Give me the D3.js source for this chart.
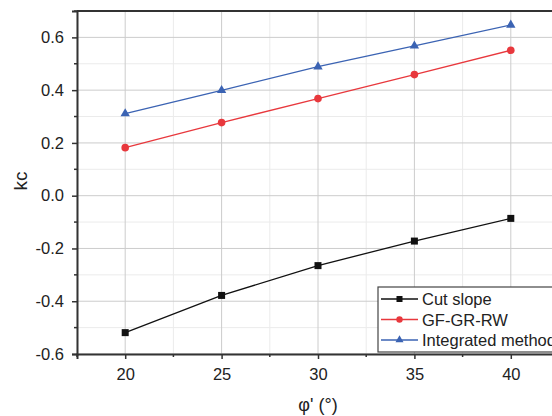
<!DOCTYPE html>
<html><head><meta charset="utf-8">
<script src="https://cdn.jsdelivr.net/npm/d3@7/dist/d3.min.js"></script>
<style>body{margin:0;background:#fff;}svg{display:block;font-family:"Liberation Sans",Arial,sans-serif;}</style>
</head><body><svg id="c" width="552" height="416"></svg>
<script>
const xValues = [20, 25, 30, 35, 40];
const cutSlope = [-0.519, -0.378, -0.265, -0.172, -0.086];
const gfGrRw = [0.182, 0.277, 0.368, 0.459, 0.551];
const integrated = [0.311, 0.399, 0.489, 0.568, 0.647];
const seriesNames = ["Cut slope", "GF-GR-RW", "Integrated method"];
const seriesColors = ["#111111", "#e8383d", "#3b63b3"];
const seriesShapes = ["square", "circle", "triangle"];
const xTicks = [20, 25, 30, 35, 40];
const yTicks = [-0.6, -0.4, -0.2, 0.0, 0.2, 0.4, 0.6];

const svg = d3.select("#c");
const m = {l: 77, t: 11, r: 559, b: 354};
const x = d3.scaleLinear().domain([17.5, 42.5]).range([m.l, m.r]);
const y = d3.scaleLinear().domain([-0.6, 0.7]).range([m.b, m.t]);

const g = svg.append("g");
const xMinor = d3.range(17.5, 42.6, 2.5).filter(v => !xTicks.includes(v));
const yMinor = d3.range(-0.5, 0.71, 0.2).map(v => +v.toFixed(2));
g.selectAll(".xm").data(xMinor).enter().append("line")
  .attr("x1", d => x(d)).attr("x2", d => x(d)).attr("y1", m.t).attr("y2", m.b)
  .attr("stroke", "#ebebeb").attr("stroke-width", 1);
g.selectAll(".ym").data(yMinor).enter().append("line")
  .attr("x1", m.l).attr("x2", m.r).attr("y1", d => y(d)).attr("y2", d => y(d))
  .attr("stroke", "#ebebeb").attr("stroke-width", 1);
g.selectAll(".xg").data(xTicks).enter().append("line")
  .attr("x1", d => x(d)).attr("x2", d => x(d)).attr("y1", m.t).attr("y2", m.b)
  .attr("stroke", "#cccccc").attr("stroke-width", 1);
g.selectAll(".yg").data(yTicks).enter().append("line")
  .attr("x1", m.l).attr("x2", m.r).attr("y1", d => y(d)).attr("y2", d => y(d))
  .attr("stroke", "#cccccc").attr("stroke-width", 1);

svg.append("line").attr("x1", m.l).attr("x2", m.r).attr("y1", m.t).attr("y2", m.t)
  .attr("stroke", "#333").attr("stroke-width", 2);

const xAxis = d3.axisBottom(x).tickValues(xTicks).tickFormat(d3.format("d")).tickSize(5).tickPadding(9);
const yAxis = d3.axisLeft(y).tickValues(yTicks).tickFormat(d3.format(".1f")).tickSize(5).tickPadding(8);
const xa = svg.append("g").attr("transform", `translate(0,${m.b})`).call(xAxis);
const ya = svg.append("g").attr("transform", `translate(${m.l},0)`).call(yAxis);
[xa, ya].forEach(a => {
  a.select(".domain").attr("stroke", "#333").attr("stroke-width", 2);
  a.selectAll(".tick line").attr("stroke", "#333").attr("stroke-width", 1.5);
  a.selectAll("text").attr("font-size", 16.5).attr("fill", "#222").attr("font-family", "Liberation Sans, Arial, sans-serif");
});
ya.selectAll("text").text(d => d < 0 ? "-" + Math.abs(d).toFixed(1) : d.toFixed(1));
svg.selectAll(".xmt").data(xMinor).enter().append("line")
  .attr("x1", d => x(d)).attr("x2", d => x(d)).attr("y1", m.b).attr("y2", m.b + 3)
  .attr("stroke", "#333").attr("stroke-width", 1.5);
svg.selectAll(".ymt").data(yMinor).enter().append("line")
  .attr("x1", m.l - 3).attr("x2", m.l).attr("y1", d => y(d)).attr("y2", d => y(d))
  .attr("stroke", "#333").attr("stroke-width", 1.5);

svg.append("text").attr("transform", `translate(27,${181}) rotate(-90)`)
  .attr("text-anchor", "middle").attr("font-size", 19).attr("fill", "#222").text("kc");
svg.append("text").attr("x", 318).attr("y", 411).attr("text-anchor", "middle")
  .attr("font-size", 18).attr("fill", "#222").text("φ' (°)");

const allSeries = [cutSlope, gfGrRw, integrated];
const line = d3.line().x((d, i) => x(xValues[i])).y(d => y(d));
function marker(sel, shape, color) {
  if (shape === "square") sel.append("rect").attr("x", -3.5).attr("y", -3.5).attr("width", 7).attr("height", 7).attr("fill", color);
  else if (shape === "circle") sel.append("circle").attr("r", 3.8).attr("fill", color);
  else sel.append("path").attr("d", d3.symbol(d3.symbolTriangle, 38)()).attr("fill", color);
}
allSeries.forEach((s, k) => {
  svg.append("path").datum(s).attr("d", line).attr("fill", "none")
    .attr("stroke", seriesColors[k]).attr("stroke-width", 1.3);
  s.forEach((v, i) => {
    const mg = svg.append("g").attr("transform", `translate(${x(xValues[i])},${y(v)})`);
    marker(mg, seriesShapes[k], seriesColors[k]);
  });
});

const lg = svg.append("g");
lg.append("rect").attr("x", 378).attr("y", 287).attr("width", 200).attr("height", 65)
  .attr("fill", "#fff").attr("stroke", "#444").attr("stroke-width", 1.2);
seriesNames.forEach((n, k) => {
  const yy = 299 + k * 20.5;
  lg.append("line").attr("x1", 381).attr("x2", 418).attr("y1", yy).attr("y2", yy)
    .attr("stroke", seriesColors[k]).attr("stroke-width", 1.3);
  const mg = lg.append("g").attr("transform", `translate(399.5,${yy})`);
  if (seriesShapes[k] === "square") mg.append("rect").attr("x", -3).attr("y", -3).attr("width", 6).attr("height", 6).attr("fill", seriesColors[k]);
  else if (seriesShapes[k] === "circle") mg.append("circle").attr("r", 3.2).attr("fill", seriesColors[k]);
  else mg.append("path").attr("d", d3.symbol(d3.symbolTriangle, 28)()).attr("fill", seriesColors[k]);
  lg.append("text").attr("x", 422).attr("y", yy + 6).attr("font-size", 16.5).attr("fill", "#222").text(n);
});
</script></body></html>
